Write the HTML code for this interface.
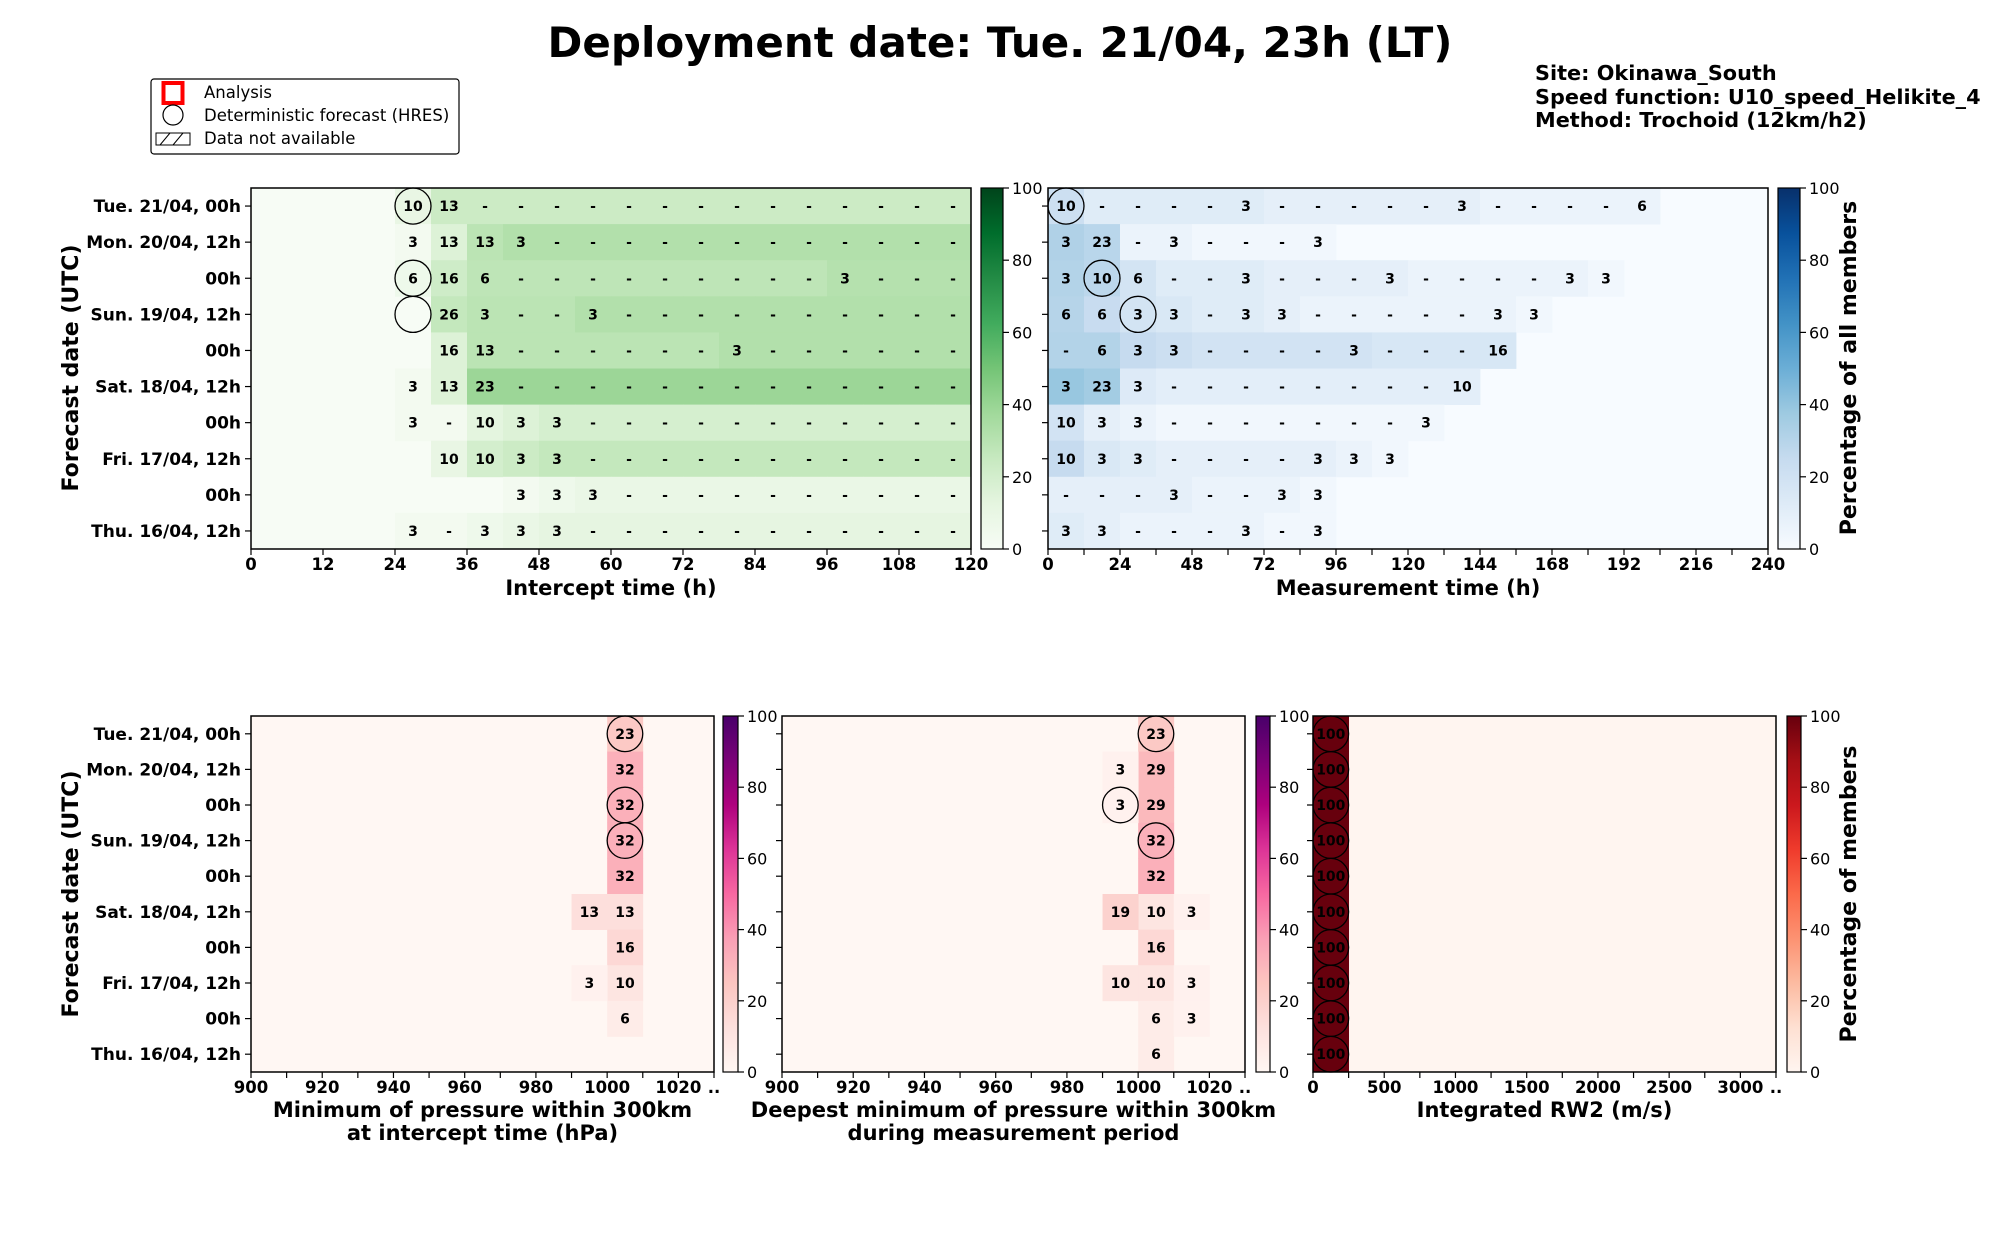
<!DOCTYPE html>
<html><head><meta charset="utf-8">
<style>
html,body{margin:0;padding:0;background:#fff;}
svg{display:block;font-family:"DejaVu Sans","Liberation Sans",sans-serif;}
</style></head>
<body>
<svg id="fig" xmlns="http://www.w3.org/2000/svg" width="2000" height="1250" viewBox="0 0 2000 1250">
<rect width="2000" height="1250" fill="#fff"/>
<text x="1000" y="57" font-size="42" font-weight="bold" text-anchor="middle">Deployment date: Tue. 21/04, 23h (LT)</text>
<g font-size="20.8" font-weight="bold">
<text x="1535" y="80">Site: Okinawa_South</text>
<text x="1535" y="104">Speed function: U10_speed_Helikite_4</text>
<text x="1535" y="127">Method: Trochoid (12km/h2)</text>
</g>
<g>
<rect x="151" y="79" width="308" height="75" rx="3" fill="#fff" stroke="#000" stroke-width="1.2"/>
<rect x="163.5" y="83" width="19" height="20" fill="none" stroke="#ff0000" stroke-width="4"/>
<text x="204" y="98" font-size="16.5">Analysis</text>
<ellipse cx="173" cy="115" rx="10" ry="10" fill="none" stroke="#000" stroke-width="1.2"/>
<text x="204" y="121" font-size="16.5">Deterministic forecast (HRES)</text>
<g>
<rect x="156" y="133" width="34" height="12" fill="#fff" stroke="#000" stroke-width="1"/>
<path d="M160 145 L170 133 M173 145 L183 133" stroke="#000" stroke-width="1"/>
</g>
<text x="204" y="144" font-size="16.5">Data not available</text>
</g>
<g id="plots"></g>
</svg>
<script>
// ---------- data ----------
const rowLabels = ["Tue. 21/04, 00h","Mon. 20/04, 12h","00h","Sun. 19/04, 12h","00h","Sat. 18/04, 12h","00h","Fri. 17/04, 12h","00h","Thu. 16/04, 12h"];
// Intercept time bins (6h, 0..120): per-bin percentages
const interceptVals = [
 [0,0,0,0,10,13,0,0,0,0,0,0,0,0,0,0,0,0,0,0],
 [0,0,0,0,3,13,13,3,0,0,0,0,0,0,0,0,0,0,0,0],
 [0,0,0,0,6,16,6,0,0,0,0,0,0,0,0,0,3,0,0,0],
 [0,0,0,0,0,26,3,0,0,3,0,0,0,0,0,0,0,0,0,0],
 [0,0,0,0,0,16,13,0,0,0,0,0,0,3,0,0,0,0,0,0],
 [0,0,0,0,3,13,23,0,0,0,0,0,0,0,0,0,0,0,0,0],
 [0,0,0,0,3,0,10,3,3,0,0,0,0,0,0,0,0,0,0,0],
 [0,0,0,0,0,10,10,3,3,0,0,0,0,0,0,0,0,0,0,0],
 [0,0,0,0,0,0,0,3,3,3,0,0,0,0,0,0,0,0,0,0],
 [0,0,0,0,3,0,3,3,3,0,0,0,0,0,0,0,0,0,0,0]];
const interceptStart = [4,4,4,5,5,4,4,5,7,4];
const interceptHres = [4,null,4,4,null,null,null,null,null,null];
const interceptTicks = [0,12,24,36,48,60,72,84,96,108,120];
// Measurement time bins (12h, 0..240)
const measureVals = [
 [10,0,0,0,0,3,0,0,0,0,0,3,0,0,0,0,6,0,0,0],
 [3,23,0,3,0,0,0,3,0,0,0,0,0,0,0,0,0,0,0,0],
 [3,10,6,0,0,3,0,0,0,3,0,0,0,0,3,3,0,0,0,0],
 [6,6,3,3,0,3,3,0,0,0,0,0,3,3,0,0,0,0,0,0],
 [0,6,3,3,0,0,0,0,3,0,0,0,16,0,0,0,0,0,0,0],
 [3,23,3,0,0,0,0,0,0,0,0,10,0,0,0,0,0,0,0,0],
 [10,3,3,0,0,0,0,0,0,0,3,0,0,0,0,0,0,0,0,0],
 [10,3,3,0,0,0,0,3,3,3,0,0,0,0,0,0,0,0,0,0],
 [0,0,0,3,0,0,3,3,0,0,0,0,0,0,0,0,0,0,0,0],
 [3,3,0,0,0,3,0,3,0,0,0,0,0,0,0,0,0,0,0,0]];
const measureHres = [0,null,1,2,null,null,null,null,null,null];
const measureTicks = [0,24,48,72,96,120,144,168,192,216,240];
// Pressure bins 900..1030 (10 hPa)
const pressTicks = [900,920,940,960,980,1000,1020];
const minPressVals = [
 {b:1000,v:[23,32,32,32,32,13,16,10,6,null]},
 {b:990,v:[null,null,null,null,null,13,null,3,null,null]}];
const minPressHres = [1000,null,1000,1000,null,null,null,null,null,null];
const deepPressVals = [
 {b:1000,v:[23,29,29,32,32,10,16,10,6,6]},
 {b:990,v:[null,3,3,null,null,19,null,10,null,null]},
 {b:1010,v:[null,null,null,null,null,3,null,3,3,null]}];
const deepPressHres = [1000,null,990,1000,null,null,null,null,null,null];
// Integrated RW2 bins 0..3250 (250)
const rw2Ticks = [0,500,1000,1500,2000,2500,3000];
const rw2Vals = [{b:0,v:[100,100,100,100,100,100,100,100,100,100]}];
const rw2Hres = [0,0,0,0,0,0,0,0,0,0];
const cbTicks = [0,20,40,60,80,100];

// ---------- colormaps ----------
const GREENS=["#f7fcf5","#e5f5e0","#c7e9c0","#a1d99b","#74c476","#41ab5d","#238b45","#006d2c","#00441b"];
const BLUES=["#f7fbff","#deebf7","#c6dbef","#9ecae1","#6baed6","#4292c6","#2171b5","#08519c","#08306b"];
const RDPU=["#fff7f3","#fde0dd","#fcc5c0","#fa9fb5","#f768a1","#dd3497","#ae017e","#7a0177","#49006a"];
const REDS=["#fff5f0","#fee0d2","#fcbba1","#fc9272","#fb6a4a","#ef3b2c","#cb181d","#a50f15","#67000d"];
function hex(h){return [parseInt(h.substr(1,2),16),parseInt(h.substr(3,2),16),parseInt(h.substr(5,2),16)];}
function cmap(stops,v){let t=Math.max(0,Math.min(1,v/100))*(stops.length-1);let i=Math.min(Math.floor(t),stops.length-2);let f=t-i;let a=hex(stops[i]),b=hex(stops[i+1]);return "rgb("+a.map((x,k)=>Math.round(x+(b[k]-x)*f)).join(",")+")";}

const NS="http://www.w3.org/2000/svg";
const root=document.getElementById('plots');
function mk(tag,attrs,parent){const e=document.createElementNS(NS,tag);for(const k in attrs)e.setAttribute(k,attrs[k]);(parent||root).appendChild(e);return e;}
function txt(s,attrs,parent){const e=mk('text',attrs,parent);e.textContent=s;return e;}

function axes(o){
  const g=mk('g',{});
  
  
  o.g=g;
  o.sx=v=>o.x0+(v-o.vmin)/(o.vmax-o.vmin)*(o.x1-o.x0);
  o.rh=(o.y1-o.y0)/rowLabels.length;
  o.sy=r=>o.y0+r*o.rh;
  mk('rect',{x:o.x0,y:o.y0,width:o.x1-o.x0,height:o.y1-o.y0,fill:cmap(o.cm,0)},g);
  return o;
}
function cell(o,r,b,w,val,label){
  const x=o.sx(b),x2=o.sx(b+w),y=o.sy(r);
  const c=mk('rect',{x:x,y:y,width:x2-x+0.4,height:o.rh+0.4,fill:cmap(o.cm,val)},o.g);
  
  
  if(label!==null){const t=txt(label,{x:(x+x2)/2,y:y+o.rh/2+5,'font-size':14,'font-weight':'bold','text-anchor':'middle',fill:'#000'},o.g);
    
    }
}
function hres(o,r,b,w){
  const x=o.sx(b),x2=o.sx(b+w),y=o.sy(r);
  const e=mk('ellipse',{cx:(x+x2)/2,cy:y+o.rh/2,rx:(x2-x)/2,ry:o.rh/2,fill:'none',stroke:'#000','stroke-width':1.3},o.g);
  
  
}
function frame(o,ticks,minor,lastDots,xl){
  const g=o.g;
  mk('rect',{x:o.x0,y:o.y0,width:o.x1-o.x0,height:o.y1-o.y0,fill:'none',stroke:'#000','stroke-width':1.5},g);
  minor.forEach(v=>{const x=o.sx(v);mk('line',{x1:x,x2:x,y1:o.y1,y2:o.y1+6,stroke:'#000','stroke-width':1.2},g);});
  ticks.forEach(v=>{const t=txt(String(v),{x:o.sx(v),y:o.y1+21,'font-size':16.5,'font-weight':'bold','text-anchor':'middle'},g);
    
    });
  if(lastDots){const t=txt('..',{x:o.x1,y:o.y1+21,'font-size':16.5,'font-weight':'bold','text-anchor':'middle'},g);
    
    }
  rowLabels.forEach((l,r)=>{const y=o.sy(r)+o.rh/2;mk('line',{x1:o.x0-6,x2:o.x0,y1:y,y2:y,stroke:'#000','stroke-width':1.2},g);
    if(o.ylab){const t=txt(l,{x:o.x0-10,y:y+6,'font-size':17,'font-weight':'bold','text-anchor':'end'},g);
      
      }});
  xl.forEach((s,i)=>{const t=txt(s,{x:(o.x0+o.x1)/2,y:o.y1+o.xlOff+i*23,'font-size':21,'font-weight':'bold','text-anchor':'middle'},g);
    
    });
}
let gid=0;
function colorbar(o,x0,x1,cm,name){
  const id='cg'+(gid++);
  const d=mk('defs',{},o.g);const lg=mk('linearGradient',{id:id,x1:0,y1:1,x2:0,y2:0},d);
  cm.forEach((c,i)=>mk('stop',{offset:i/(cm.length-1),'stop-color':c},lg));
  const r=mk('rect',{x:x0,y:o.y0,width:x1-x0,height:o.y1-o.y0,fill:'url(#'+id+')',stroke:'#000','stroke-width':1.2},o.g);
  
  
  cbTicks.forEach(v=>{const y=o.y1-(v/100)*(o.y1-o.y0);mk('line',{x1:x1,x2:x1+6,y1:y,y2:y,stroke:'#000','stroke-width':1.2},o.g);
    const t=txt(String(v),{x:x1+9,y:y+6,'font-size':16},o.g);
    
    });
}
function ylabel(x,yc,s,name){const t=txt(s,{x:x,y:yc,'font-size':22,'font-weight':'bold','text-anchor':'middle',transform:'rotate(-90 '+x+' '+yc+')'});
  
  }
function range(a,b,s){const r=[];for(let v=a;v<=b+1e-9;v+=s)r.push(v);return r;}

// ---- Panel 1: intercept time (forward cumulative colour) ----
const A=axes({name:'intercept-time-heatmap',x0:251,x1:971,y0:188,y1:549,vmin:0,vmax:120,cm:GREENS,ylab:true,xlOff:46});
interceptVals.forEach((row,r)=>{let cum=0;row.forEach((v,j)=>{cum+=v;if(j>=interceptStart[r])cell(A,r,j*6,6,cum,v>0?String(v):'-');});});
interceptHres.forEach((j,r)=>{if(j!==null)hres(A,r,j*6,6);});
frame(A,interceptTicks,range(0,120,6).filter(v=>v%12===0),false,['Intercept time (h)']);
colorbar(A,981,1003,GREENS,'intercept-colorbar');

// ---- Panel 2: measurement time (reverse cumulative colour) ----
const B=axes({name:'measurement-time-heatmap',x0:1048,x1:1768,y0:188,y1:549,vmin:0,vmax:240,cm:BLUES,ylab:false,xlOff:46});
measureVals.forEach((row,r)=>{let rev=row.map((v,j)=>row.slice(j).reduce((a,b)=>a+b,0));row.forEach((v,j)=>{if(rev[j]>0)cell(B,r,j*12,12,rev[j],v>0?String(v):'-');});});
measureHres.forEach((j,r)=>{if(j!==null)hres(B,r,j*12,12);});
frame(B,measureTicks,range(0,240,12),false,['Measurement time (h)']);
colorbar(B,1778,1800,BLUES,'measurement-colorbar');
ylabel(1856,368,'Percentage of all members','colorbar-title-top');
ylabel(78,368,'Forecast date (UTC)','y-axis-title-top');

// ---- Bottom panels ----
function barPanel(name,x0,x1,vmin,vmax,w,cm,vals,hr,ticks,ylab,xl){
  const o=axes({name:name,x0:x0,x1:x1,y0:716,y1:1072,vmin:vmin,vmax:vmax,cm:cm,ylab:ylab,xlOff:45});
  vals.forEach(s=>s.v.forEach((v,r)=>{if(v!==null)cell(o,r,s.b,w,v,String(v));}));
  hr.forEach((b,r)=>{if(b!==null)hres(o,r,b,w);});
  frame(o,ticks,range(vmin,vmax,w),true,xl);
  return o;
}
const C=barPanel('min-pressure-heatmap',251,714,900,1030,10,RDPU,minPressVals,minPressHres,pressTicks,true,['Minimum of pressure within 300km','at intercept time (hPa)']);
colorbar(C,723,738,RDPU,'min-pressure-colorbar');
const D=barPanel('deep-pressure-heatmap',782,1245,900,1030,10,RDPU,deepPressVals,deepPressHres,pressTicks,false,['Deepest minimum of pressure within 300km','during measurement period']);
colorbar(D,1256,1270,RDPU,'deep-pressure-colorbar');
const E=barPanel('rw2-heatmap',1313,1776,0,3250,250,REDS,rw2Vals,rw2Hres,rw2Ticks,false,['Integrated RW2 (m/s)']);
colorbar(E,1787,1801,REDS,'rw2-colorbar');
ylabel(1856,894,'Percentage of members','colorbar-title-bottom');
ylabel(78,894,'Forecast date (UTC)','y-axis-title-bottom');
</script>
</body></html>
